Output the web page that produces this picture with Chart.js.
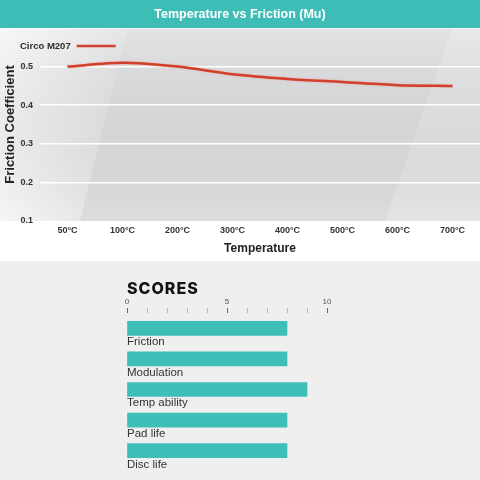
<!DOCTYPE html>
<html>
<head>
<meta charset="utf-8">
<script src="https://cdn.jsdelivr.net/npm/chart.js@4.4.1/dist/chart.umd.min.js"></script>
<style>
  html, body { margin: 0; padding: 0; background: #ffffff; }
  #wrap { position: relative; width: 480px; height: 480px; overflow: hidden; }
  #topBox { position: absolute; left: 0; top: 0; width: 480px; height: 261px; }
  #bottomBox { position: absolute; left: 0; top: 261px; width: 480px; height: 219px; background: #efefef; }
  #botCanvasBox { position: absolute; left: 0; top: 0; width: 480px; height: 219px; }
  #scoresTitle { position: absolute; left: 127px; top: 19px; font-family: Inter, "Noto Sans", sans-serif;
    font-weight: 800; font-size: 16px; line-height: 16px; letter-spacing: 1px; color: #141414; }
</style>
</head>
<body>
<div id="wrap">
  <div id="topBox"><canvas id="topChart"></canvas></div>
  <div id="bottomBox">
    <div id="botCanvasBox"><canvas id="scoreChart"></canvas></div>
    <div id="scoresTitle">SCORES</div>
  </div>
</div>
<script>
// ---- data ----
const temperatureLabels = ['50°C', '100°C', '200°C', '300°C', '400°C', '500°C', '600°C', '700°C'];
const frictionValues = [0.50, 0.51, 0.50, 0.48, 0.468, 0.46, 0.452, 0.45];
const seriesName = 'Circo M207';
const scoreCategories = ['Friction', 'Modulation', 'Temp ability', 'Pad life', 'Disc life'];
const scoreValues = [8, 8, 9, 8, 8];
const scoreTickLabels = ['0', '5', '10'];

const FF = '"Liberation Sans", Arial, Helvetica, sans-serif';
const TEAL = '#3dbdb6';
const RED = '#d0402d';

// background: teal title band + grey panel
const bgPlugin = {
  id: 'bgPlugin',
  beforeDraw(chart) {
    const ctx = chart.ctx, ca = chart.chartArea, W = chart.width;
    const top = ca.top, bot = ca.bottom;
    ctx.save();
    ctx.fillStyle = TEAL;
    ctx.fillRect(0, 0, W, top);
    ctx.fillStyle = '#dcdddf';
    ctx.fillRect(0, top, W, bot - top);
    const g = ctx.createLinearGradient(0, 0, 120, 0);
    g.addColorStop(0, '#f6f6f6');
    g.addColorStop(1, '#e2e2e3');
    ctx.fillStyle = g;
    ctx.beginPath();
    ctx.moveTo(0, top); ctx.lineTo(128, top); ctx.lineTo(80, bot); ctx.lineTo(0, bot); ctx.closePath();
    ctx.fill();
    ctx.fillStyle = '#e3e4e6';
    ctx.beginPath();
    ctx.moveTo(452, top); ctx.lineTo(W, top); ctx.lineTo(W, bot); ctx.lineTo(385, bot); ctx.closePath();
    ctx.fill();
    const v = ctx.createLinearGradient(0, top, 0, bot);
    v.addColorStop(0, 'rgba(255,255,255,0.18)');
    v.addColorStop(1, 'rgba(0,0,0,0.0)');
    ctx.fillStyle = v;
    ctx.fillRect(0, top, W, bot - top);
    ctx.fillStyle = 'rgba(255,255,255,0.6)';
    ctx.fillRect(0, top, W, 1);
    ctx.restore();
  }
};

// legend drawn inside the plot, text then line sample
const insideLegend = {
  id: 'insideLegend',
  afterDatasetsDraw(chart) {
    const ctx = chart.ctx, ca = chart.chartArea;
    const ds = chart.data.datasets[0];
    const y = ca.top + 18;
    ctx.save();
    ctx.font = 'bold 9.5px ' + FF;
    ctx.fillStyle = '#2e2e2e';
    ctx.textBaseline = 'middle';
    ctx.textAlign = 'left';
    const x0 = ca.left - 20;
    ctx.fillText(ds.label, x0, y);
    const w = ctx.measureText(ds.label).width;
    ctx.strokeStyle = ds.borderColor;
    ctx.lineWidth = 2.5;
    ctx.beginPath();
    ctx.moveTo(x0 + w + 6, y);
    ctx.lineTo(x0 + w + 45, y);
    ctx.stroke();
    ctx.restore();
  }
};

const glowPlugin = {
  id: 'glow',
  beforeDatasetDraw(chart) {
    chart.ctx.save();
    chart.ctx.shadowColor = 'rgba(245,130,110,0.6)';
    chart.ctx.shadowBlur = 2;
  },
  afterDatasetDraw(chart) {
    chart.ctx.restore();
  }
};

new Chart(document.getElementById('topChart'), {
  type: 'line',
  data: {
    labels: temperatureLabels,
    datasets: [{
      label: seriesName,
      data: frictionValues,
      borderColor: RED,
      borderWidth: 2.5,
      pointRadius: 0,
      fill: false,
      tension: 0.3
    }]
  },
  options: {
    responsive: true,
    maintainAspectRatio: false,
    animation: false,
    layout: { padding: 0 },
    plugins: {
      legend: { display: false },
      tooltip: { enabled: false },
      title: {
        display: true,
        text: 'Temperature vs Friction (Mu)',
        color: '#ffffff',
        font: { family: FF, size: 12.5, weight: 'bold' },
        padding: { top: 7, bottom: 6 }
      }
    },
    scales: {
      x: {
        type: 'category',
        offset: true,
        grid: { display: false, drawTicks: false },
        border: { display: false },
        ticks: { color: '#333', font: { family: FF, size: 9, weight: 'bold' }, padding: 4, maxRotation: 0, autoSkip: false },
        title: { display: true, text: 'Temperature', color: '#222', font: { family: FF, size: 12, weight: 'bold' }, padding: { top: 0, bottom: 5 } },
        afterFit(s) { s.height = 40; }
      },
      y: {
        min: 0.1,
        max: 0.6,
        ticks: {
          stepSize: 0.1,
          color: '#333',
          font: { family: FF, size: 9, weight: 'bold' },
          padding: 7,
          callback: (v) => (Math.round(v * 10) === 6 ? '' : Number(v).toFixed(1))
        },
        grid: {
          drawTicks: false,
          lineWidth: 1.5,
          color: (c) => {
            const t = Math.round(c.tick.value * 10);
            return (t === 1 || t === 6) ? 'rgba(0,0,0,0)' : '#ffffff';
          }
        },
        border: { display: false },
        title: { display: true, text: 'Friction Coefficient', color: '#222', font: { family: FF, size: 13, weight: 'bold' }, padding: { top: 3, bottom: 0 } },
        afterFit(s) { s.width = 40; }
      }
    }
  },
  plugins: [bgPlugin, glowPlugin, insideLegend]
});

// labels under each score bar
const barLabels = {
  id: 'barLabels',
  afterDatasetsDraw(chart) {
    const ctx = chart.ctx, ca = chart.chartArea;
    const meta = chart.getDatasetMeta(0);
    ctx.save();
    ctx.font = '11.5px ' + FF;
    ctx.fillStyle = '#333';
    ctx.textBaseline = 'top';
    ctx.textAlign = 'left';
    meta.data.forEach((bar, i) => {
      const p = bar.getProps(['y', 'height'], true);
      ctx.fillText(chart.data.labels[i], ca.left, p.y + p.height / 2 + 1);
    });
    ctx.restore();
  }
};

new Chart(document.getElementById('scoreChart'), {
  type: 'bar',
  data: {
    labels: scoreCategories,
    datasets: [{ data: scoreValues, backgroundColor: '#3dbfb8', borderWidth: 0, barThickness: 14 }]
  },
  options: {
    indexAxis: 'y',
    responsive: true,
    maintainAspectRatio: false,
    animation: false,
    layout: { padding: { left: 127, right: 153, top: 32, bottom: 14 } },
    plugins: { legend: { display: false }, tooltip: { enabled: false } },
    scales: {
      x: {
        position: 'top',
        min: 0,
        max: 10,
        ticks: {
          stepSize: 1,
          autoSkip: false,
          maxRotation: 0,
          padding: 1,
          color: '#555',
          font: { family: FF, size: 8 },
          callback: (v) => (scoreTickLabels.includes(String(v)) ? String(v) : '')
        },
        grid: {
          drawOnChartArea: false,
          drawTicks: true,
          tickLength: 5,
          tickWidth: 1,
          tickColor: (c) => (c.tick && c.tick.value % 5 === 0 ? '#666' : '#b8b8b8')
        },
        border: { display: false },
        afterFit(s) { s.height = 20; }
      },
      y: { display: false, offset: true }
    }
  },
  plugins: [barLabels]
});
</script>
</body>
</html>
